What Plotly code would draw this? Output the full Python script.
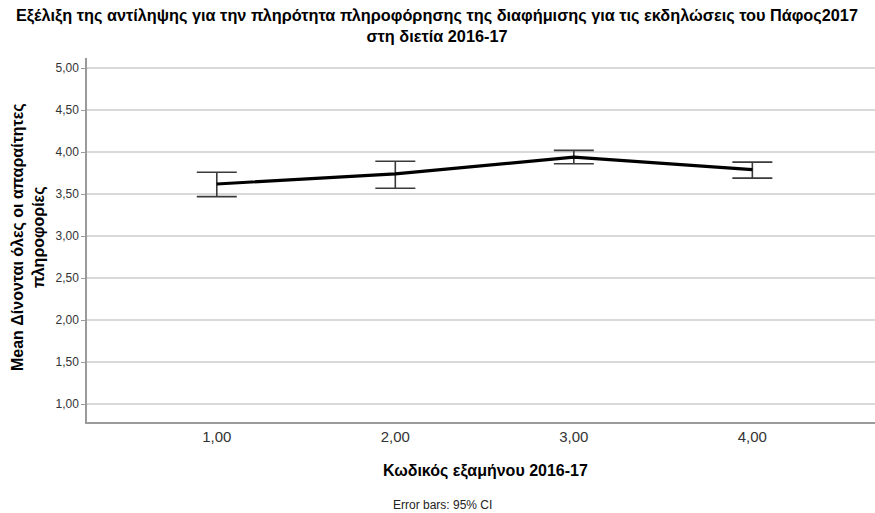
import plotly.graph_objects as go

semesters = [1, 2, 3, 4]
tick_labels = ["1,00", "2,00", "3,00", "4,00"]
means = [3.62, 3.74, 3.94, 3.79]
ci_upper = [3.76, 3.89, 4.02, 3.88]
ci_lower = [3.47, 3.57, 3.86, 3.69]
y_ticks = [1.0, 1.5, 2.0, 2.5, 3.0, 3.5, 4.0, 4.5, 5.0]
y_tick_labels = ["1,00", "1,50", "2,00", "2,50", "3,00", "3,50", "4,00", "4,50", "5,00"]

err_plus = [u - m for u, m in zip(ci_upper, means)]
err_minus = [m - l for m, l in zip(means, ci_lower)]

FONT = "Liberation Sans, Arial, sans-serif"

fig = go.Figure()
# error bars
fig.add_trace(go.Scatter(
    x=semesters, y=means, mode="markers",
    marker=dict(size=1, color="rgba(0,0,0,0)"),
    error_y=dict(type="data", symmetric=False, array=err_plus, arrayminus=err_minus,
                 color="#3a3a3a", thickness=1.6, width=20),
    showlegend=False, hoverinfo="skip",
))
# mean line
fig.add_trace(go.Scatter(
    x=semesters, y=means, mode="lines",
    line=dict(color="black", width=3.2),
    showlegend=False,
))

fig.update_layout(
    width=875, height=513,
    margin=dict(l=87, r=0, t=58, b=91),
    paper_bgcolor="white", plot_bgcolor="white",
    font=dict(family=FONT, color="black"),
    xaxis=dict(
        range=[0.273, 4.687], tickvals=semesters, ticktext=tick_labels,
        showgrid=False, zeroline=False, showline=True, linecolor="#9a9a9a", linewidth=1.5,
        ticks="", tickfont=dict(size=15, color="#333333", family=FONT),
    ),
    yaxis=dict(
        range=[0.786, 5.12], tickvals=y_ticks, ticktext=y_tick_labels,
        showgrid=True, gridcolor="#d9d9d9", gridwidth=1.5, zeroline=False,
        showline=True, linecolor="#9a9a9a", linewidth=1.5,
        ticks="outside", ticklen=4, tickcolor="#9a9a9a",
        tickfont=dict(size=12, color="#333333", family=FONT),
    ),
    annotations=[
        dict(text="<b>Εξέλιξη της αντίληψης για την πληρότητα πληροφόρησης της διαφήμισης για τις εκδηλώσεις του Πάφος2017</b><br><b>στη διετία 2016-17</b>",
             xref="paper", yref="paper", x=0.5, y=1, xshift=-44, yshift=33,
             xanchor="center", yanchor="middle", showarrow=False,
             font=dict(size=16.3, color="black", family=FONT)),
        dict(text="<b>Mean Δίνονται όλες οι απαραίτητες</b><br><b>πληροφορίες</b>",
             xref="paper", yref="paper", x=0, y=0.5, xshift=-59, yshift=3,
             xanchor="center", yanchor="middle", textangle=-90, showarrow=False,
             font=dict(size=16, color="black", family=FONT)),
        dict(text="<b>Κωδικός εξαμήνου 2016-17</b>",
             xref="paper", yref="paper", x=0.5, y=0, xshift=4, yshift=-49,
             xanchor="center", yanchor="middle", showarrow=False,
             font=dict(size=16, color="black", family=FONT)),
        dict(text="Error bars: 95% CI",
             xref="paper", yref="paper", x=0.5, y=0, xshift=-39, yshift=-83,
             xanchor="center", yanchor="middle", showarrow=False,
             font=dict(size=12, color="#222222", family=FONT)),
    ],
)

fig.write_html("out.html", config={"displayModeBar": False},
               post_script="document.body.style.margin='0';document.body.style.padding='0';")
